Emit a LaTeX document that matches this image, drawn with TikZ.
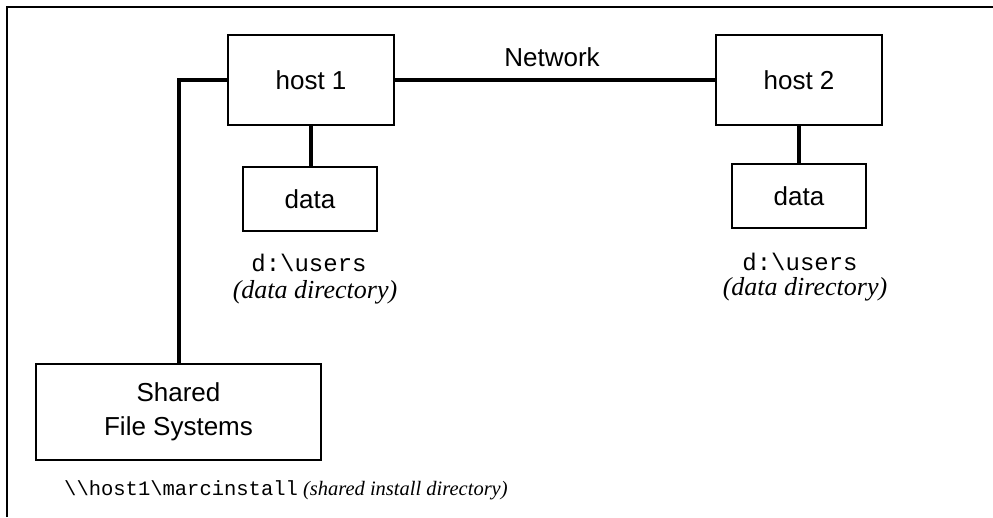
\documentclass[tikz,border=0pt]{standalone}
\usepackage{fontspec}
\setmainfont{Liberation Serif}
\setsansfont{Liberation Sans}
\setmonofont{Liberation Mono}
\begin{document}
\begin{tikzpicture}[x=1pt,y=-1pt,
  box/.style={draw,line width=1.5pt,inner sep=0pt,align=center,
    font=\sffamily\fontsize{26}{34}\selectfont},
  lbl/.style={inner sep=0pt,font=\sffamily\fontsize{26}{34}\selectfont},
  pathtxt/.style={inner sep=0pt,font=\ttfamily\fontsize{24}{30}\selectfont},
  desctxt/.style={inner sep=0pt,font=\itshape\fontsize{26}{30}\selectfont},
  link/.style={line width=4pt},
  frame/.style={line width=1.5pt}]
\useasboundingbox (0,0) rectangle (993,517);
\draw[frame] (7,517) -- (7,7) -- (993,7);

\node[box,minimum width=166pt,minimum height=90pt] (host1) at (311,80) {host 1};
\node[box,minimum width=166pt,minimum height=90pt] (host2) at (799,80) {host 2};
\node[box,minimum width=134pt,minimum height=64pt] (data1) at (310,199) {data};
\node[box,minimum width=134pt,minimum height=64pt] (data2) at (799,196) {data};
\node[box,minimum width=285pt,minimum height=96pt] (shared) at (178.5,412) {Shared\\File Systems};

\node[lbl] (net) at (552,57) {Network};
\node[pathtxt] (path1) at (309,263) {d:\textbackslash users};
\node[desctxt] (desc1) at (315,292) {(data directory)};
\node[pathtxt] (path2) at (800,262) {d:\textbackslash users};
\node[desctxt] (desc2) at (805,289) {(data directory)};
\node[anchor=west,inner sep=0pt] (inst) at (64,490)
  {{\ttfamily\fontsize{20.5}{26}\selectfont \textbackslash\textbackslash host1\textbackslash marcinstall}{\rmfamily\itshape\fontsize{20.5}{26}\selectfont\ (shared install directory)}};

\draw[link] (host1.west) -| (shared.north);
\draw[link] (host1.east) -- (host2.west);
\draw[link] (host1.south) -- (host1.south |- data1.north);
\draw[link] (host2.south) -- (data2.north);
\end{tikzpicture}
\end{document}
